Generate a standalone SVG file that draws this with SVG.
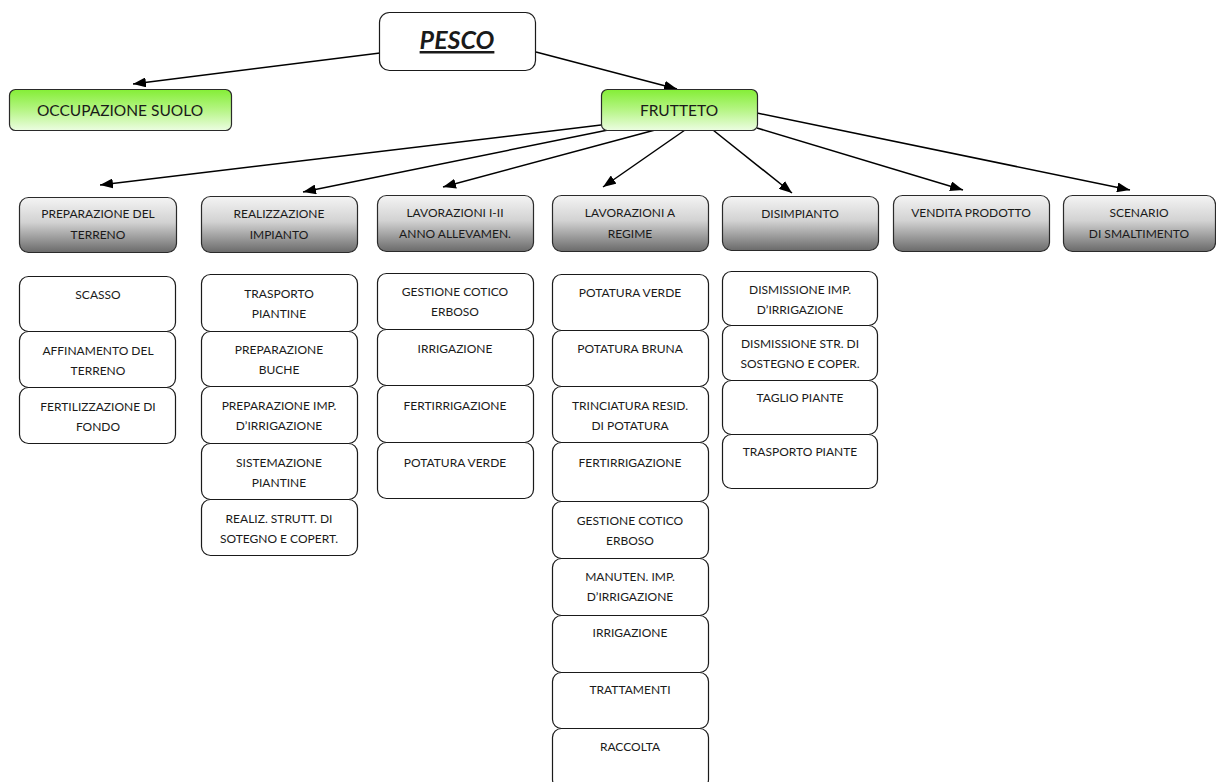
<svg xmlns="http://www.w3.org/2000/svg" width="1216" height="782" viewBox="0 0 1216 782">
<defs>
<linearGradient id="green" x1="0" y1="0" x2="0" y2="1">
<stop offset="0" stop-color="#84ee36"/>
<stop offset="0.5" stop-color="#b6f585"/>
<stop offset="1" stop-color="#ecfde2"/>
</linearGradient>
<linearGradient id="gray" x1="0" y1="0" x2="0" y2="1">
<stop offset="0" stop-color="#f4f4f4"/>
<stop offset="0.45" stop-color="#d2d2d2"/>
<stop offset="1" stop-color="#6a6a6a"/>
</linearGradient>
<marker id="arr" markerUnits="userSpaceOnUse" markerWidth="14" markerHeight="10" refX="13" refY="5" orient="auto">
<path d="M0,0 L13,5 L0,10 Z" fill="#000"/>
</marker>
<style>
.box{fill:#fff;stroke:#1a1a1a;stroke-width:1.2}
.g{fill:url(#green);stroke:#2a2a2a;stroke-width:1.2}
.h{fill:url(#gray);stroke:#2a2a2a;stroke-width:1.2}
text{font-family:Lato,"Open Sans","Liberation Sans",sans-serif;font-size:12px;fill:#1a1a1a;text-anchor:middle}
.big{font-size:15.5px}
.title{font-size:25px;font-weight:bold;font-style:italic;text-decoration:underline}
.c line{stroke:#000;stroke-width:1.5;marker-end:url(#arr)}
</style>
</defs>
<rect width="1216" height="782" fill="#fff"/>

<g class="c" id="connectors">
<line x1="380" y1="53" x2="133" y2="84"/>
<line x1="536" y1="52" x2="677" y2="89"/>
<line x1="601" y1="125" x2="100" y2="185"/>
<line x1="608" y1="130" x2="303" y2="192"/>
<line x1="655" y1="130" x2="443" y2="187"/>
<line x1="685" y1="130" x2="603" y2="187"/>
<line x1="713" y1="130" x2="792" y2="193"/>
<line x1="757" y1="128" x2="963" y2="190"/>
<line x1="757" y1="113" x2="1130" y2="190"/>
</g>

<g id="pesco"><rect class="box" x="379.5" y="12.5" width="156" height="58" rx="10"/><text class="title" x="457" y="49">PESCO</text></g>
<g id="occupazione"><rect class="g" x="9.5" y="89.5" width="222" height="41" rx="6"/><text class="big" x="120" y="116">OCCUPAZIONE SUOLO</text></g>
<g id="frutteto"><rect class="g" x="601.5" y="89.5" width="156" height="41" rx="6"/><text class="big" x="679" y="116">FRUTTETO</text></g>

<g id="h1"><rect class="h" x="19.5" y="197.5" width="157" height="55" rx="9"/><text x="98" y="218">PREPARAZIONE DEL</text><text x="98" y="239">TERRENO</text></g>
<g id="h2"><rect class="h" x="201.5" y="196.5" width="156" height="56" rx="9"/><text x="279" y="218">REALIZZAZIONE</text><text x="279" y="239">IMPIANTO</text></g>
<g id="h3"><rect class="h" x="377.5" y="195.5" width="156" height="56" rx="9"/><text x="455" y="217">LAVORAZIONI I-II</text><text x="455" y="238">ANNO ALLEVAMEN.</text></g>
<g id="h4"><rect class="h" x="552.5" y="195.5" width="156" height="56" rx="9"/><text x="630" y="217">LAVORAZIONI A</text><text x="630" y="238">REGIME</text></g>
<g id="h5"><rect class="h" x="722.5" y="196.5" width="156" height="54" rx="9"/><text x="800" y="218">DISIMPIANTO</text></g>
<g id="h6"><rect class="h" x="893.5" y="195.5" width="156" height="56" rx="9"/><text x="971" y="217">VENDITA PRODOTTO</text></g>
<g id="h7"><rect class="h" x="1063.5" y="195.5" width="152" height="56" rx="9"/><text x="1139" y="217">SCENARIO</text><text x="1139" y="238">DI SMALTIMENTO</text></g>

<g id="c1a"><rect class="box" x="19.5" y="276.5" width="156" height="55" rx="9"/><text x="98" y="299">SCASSO</text></g>
<g id="c1b"><rect class="box" x="19.5" y="331.5" width="156" height="56" rx="9"/><text x="98" y="355">AFFINAMENTO DEL</text><text x="98" y="375">TERRENO</text></g>
<g id="c1c"><rect class="box" x="19.5" y="387.5" width="156" height="56" rx="9"/><text x="98" y="411">FERTILIZZAZIONE DI</text><text x="98" y="431">FONDO</text></g>

<g id="c2a"><rect class="box" x="201.5" y="274.5" width="156" height="57" rx="9"/><text x="279" y="298">TRASPORTO</text><text x="279" y="318">PIANTINE</text></g>
<g id="c2b"><rect class="box" x="201.5" y="331.5" width="156" height="55" rx="9"/><text x="279" y="354">PREPARAZIONE</text><text x="279" y="374">BUCHE</text></g>
<g id="c2c"><rect class="box" x="201.5" y="386.5" width="156" height="57" rx="9"/><text x="279" y="410">PREPARAZIONE IMP.</text><text x="279" y="430">D’IRRIGAZIONE</text></g>
<g id="c2d"><rect class="box" x="201.5" y="443.5" width="156" height="56" rx="9"/><text x="279" y="467">SISTEMAZIONE</text><text x="279" y="487">PIANTINE</text></g>
<g id="c2e"><rect class="box" x="201.5" y="499.5" width="156" height="56" rx="9"/><text x="279" y="523">REALIZ. STRUTT. DI</text><text x="279" y="543">SOTEGNO E COPERT.</text></g>

<g id="c3a"><rect class="box" x="377.5" y="273.5" width="156" height="56" rx="9"/><text x="455" y="296">GESTIONE COTICO</text><text x="455" y="316">ERBOSO</text></g>
<g id="c3b"><rect class="box" x="377.5" y="329.5" width="156" height="56" rx="9"/><text x="455" y="353">IRRIGAZIONE</text></g>
<g id="c3c"><rect class="box" x="377.5" y="385.5" width="156" height="57" rx="9"/><text x="455" y="410">FERTIRRIGAZIONE</text></g>
<g id="c3d"><rect class="box" x="377.5" y="442.5" width="156" height="56" rx="9"/><text x="455" y="467">POTATURA VERDE</text></g>

<g id="c4a"><rect class="box" x="552.5" y="274.5" width="156" height="56" rx="9"/><text x="630" y="297">POTATURA VERDE</text></g>
<g id="c4b"><rect class="box" x="552.5" y="330.5" width="156" height="56" rx="9"/><text x="630" y="353">POTATURA BRUNA</text></g>
<g id="c4c"><rect class="box" x="552.5" y="386.5" width="156" height="56" rx="9"/><text x="630" y="410">TRINCIATURA RESID.</text><text x="630" y="430">DI POTATURA</text></g>
<g id="c4d"><rect class="box" x="552.5" y="442.5" width="156" height="59" rx="9"/><text x="630" y="467">FERTIRRIGAZIONE</text></g>
<g id="c4e"><rect class="box" x="552.5" y="501.5" width="156" height="57" rx="9"/><text x="630" y="525">GESTIONE COTICO</text><text x="630" y="545">ERBOSO</text></g>
<g id="c4f"><rect class="box" x="552.5" y="558.5" width="156" height="57" rx="9"/><text x="630" y="581">MANUTEN. IMP.</text><text x="630" y="601">D’IRRIGAZIONE</text></g>
<g id="c4g"><rect class="box" x="552.5" y="615.5" width="156" height="57" rx="9"/><text x="630" y="637">IRRIGAZIONE</text></g>
<g id="c4h"><rect class="box" x="552.5" y="672.5" width="156" height="56" rx="9"/><text x="630" y="694">TRATTAMENTI</text></g>
<g id="c4i"><rect class="box" x="552.5" y="728.5" width="156" height="60" rx="9"/><text x="630" y="751">RACCOLTA</text></g>

<g id="c5a"><rect class="box" x="722.5" y="271.5" width="155" height="54" rx="9"/><text x="800" y="294">DISMISSIONE IMP.</text><text x="800" y="314">D’IRRIGAZIONE</text></g>
<g id="c5b"><rect class="box" x="722.5" y="325.5" width="155" height="55" rx="9"/><text x="800" y="348">DISMISSIONE STR. DI</text><text x="800" y="368">SOSTEGNO E COPER.</text></g>
<g id="c5c"><rect class="box" x="722.5" y="380.5" width="155" height="54" rx="9"/><text x="800" y="402">TAGLIO PIANTE</text></g>
<g id="c5d"><rect class="box" x="722.5" y="434.5" width="155" height="54" rx="9"/><text x="800" y="456">TRASPORTO PIANTE</text></g>
</svg>
